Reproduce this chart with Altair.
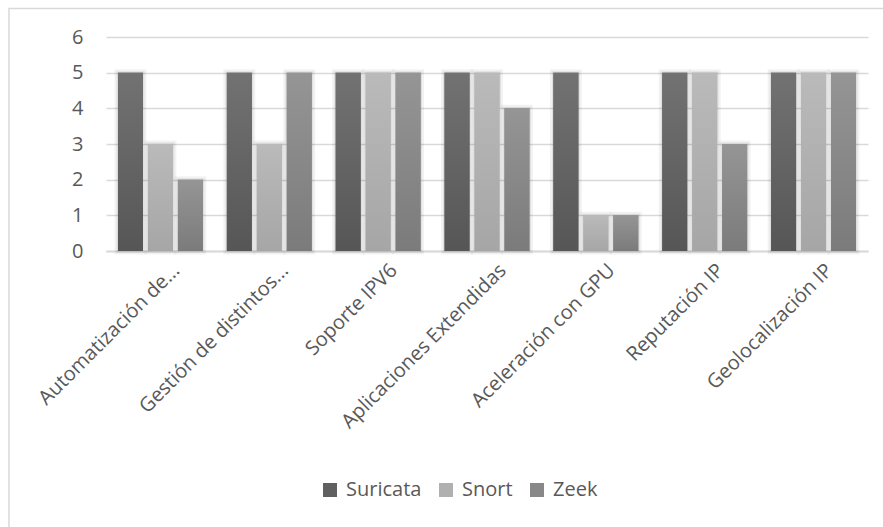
import altair as alt
import pandas as pd

# Chart data
categories = [
    "Automatización de...",
    "Gestión de distintos...",
    "Soporte IPV6",
    "Aplicaciones Extendidas",
    "Aceleración con GPU",
    "Reputación IP",
    "Geolocalización IP",
]
series = ["Suricata", "Snort", "Zeek"]
suricata = [5, 5, 5, 5, 5, 5, 5]
snort = [3, 3, 5, 5, 1, 5, 5]
zeek = [2, 5, 5, 4, 1, 3, 5]

rows = []
for name, vals in zip(series, [suricata, snort, zeek]):
    for cat, v in zip(categories, vals):
        rows.append({"Categoria": cat, "Serie": name, "Valor": v})
df = pd.DataFrame(rows)

# Styling
FONT = "Open Sans"
FS = 20
TEXT = "#595959"
GRID = "#d9d9d9"
solid = ["#606060", "#b0b0b0", "#888888"]
gradients = {
    "Suricata": ("#727272", "#565656"),
    "Snort": ("#bababa", "#a6a6a6"),
    "Zeek": ("#959595", "#7b7b7b"),
}

x_enc = alt.X(
    "Categoria:N",
    sort=categories,
    scale=alt.Scale(domain=categories, paddingInner=0, paddingOuter=0),
    axis=alt.Axis(
        title=None,
        labelAngle=-45,
        labelAlign="right",
        labelBaseline="middle",
        labelFont=FONT,
        labelFontSize=FS,
        labelColor=TEXT,
        labelPadding=16,
        labelOffset=16,
        labelLimit=0,
        ticks=False,
        domainColor=GRID,
        domainWidth=2,
        grid=False,
    ),
)
xo_enc = alt.XOffset(
    "Serie:N",
    sort=series,
    scale=alt.Scale(domain=series, paddingInner=0.167, paddingOuter=0.4),
)
y_enc = alt.Y(
    "Valor:Q",
    scale=alt.Scale(domain=[0, 6], nice=False),
    axis=alt.Axis(
        title=None,
        values=[0, 1, 2, 3, 4, 5, 6],
        grid=True,
        gridColor=GRID,
        gridWidth=1.5,
        domain=False,
        ticks=False,
        labelFont=FONT,
        labelFontSize=FS,
        labelColor=TEXT,
        labelPadding=23,
    ),
)

base = alt.Chart(df)

# soft halo around bars
halo_outer = base.mark_bar(
    fill="transparent", stroke="#000000", strokeOpacity=0.05, strokeWidth=7
).encode(x=x_enc, xOffset=xo_enc, y=y_enc)
halo_inner = base.mark_bar(
    fill="transparent", stroke="#000000", strokeOpacity=0.07, strokeWidth=3
).encode(x=x_enc, xOffset=xo_enc, y=y_enc)

# solid bars carrying the legend
bars = base.mark_bar().encode(
    x=x_enc,
    xOffset=xo_enc,
    y=y_enc,
    color=alt.Color(
        "Serie:N",
        sort=series,
        scale=alt.Scale(domain=series, range=solid),
        legend=alt.Legend(
            title=None,
            orient="none",
            legendX=214,
            legendY=443,
            direction="horizontal",
            symbolType="square",
            symbolSize=196,
            symbolStrokeWidth=0,
            labelFont=FONT,
            labelFontSize=FS,
            labelColor=TEXT,
            labelOffset=6,
            columnPadding=14,
        ),
    ),
)

# vertical gradient fill per series
grad_layers = []
for s in series:
    top, bottom = gradients[s]
    grad_layers.append(
        base.transform_filter(alt.datum.Serie == s)
        .mark_bar(
            fill=alt.Gradient(
                gradient="linear",
                stops=[
                    alt.GradientStop(color=top, offset=0),
                    alt.GradientStop(color=bottom, offset=1),
                ],
                x1=0, x2=0, y1=0, y2=1,
            )
        )
        .encode(x=x_enc, xOffset=xo_enc, y=y_enc)
    )

# outer frame of the chart area
frame = alt.Chart(pd.DataFrame({"k": [0]})).mark_rect(
    fill="transparent", stroke=GRID, strokeWidth=1.5
).encode(
    x=alt.value(-97), x2=alt.value(820), y=alt.value(-28.5), y2=alt.value(520)
)

chart = (
    alt.layer(frame, halo_outer, halo_inner, bars, *grad_layers)
    .properties(
        width=762,
        height=214,
        padding={"left": 106, "top": 37, "right": 15, "bottom": 276},
        autosize=alt.AutoSizeParams(type="none"),
        background="white",
    )
    .configure_view(stroke=None)
)

chart.save("out.html", embed_options={"renderer": "svg", "actions": False})
